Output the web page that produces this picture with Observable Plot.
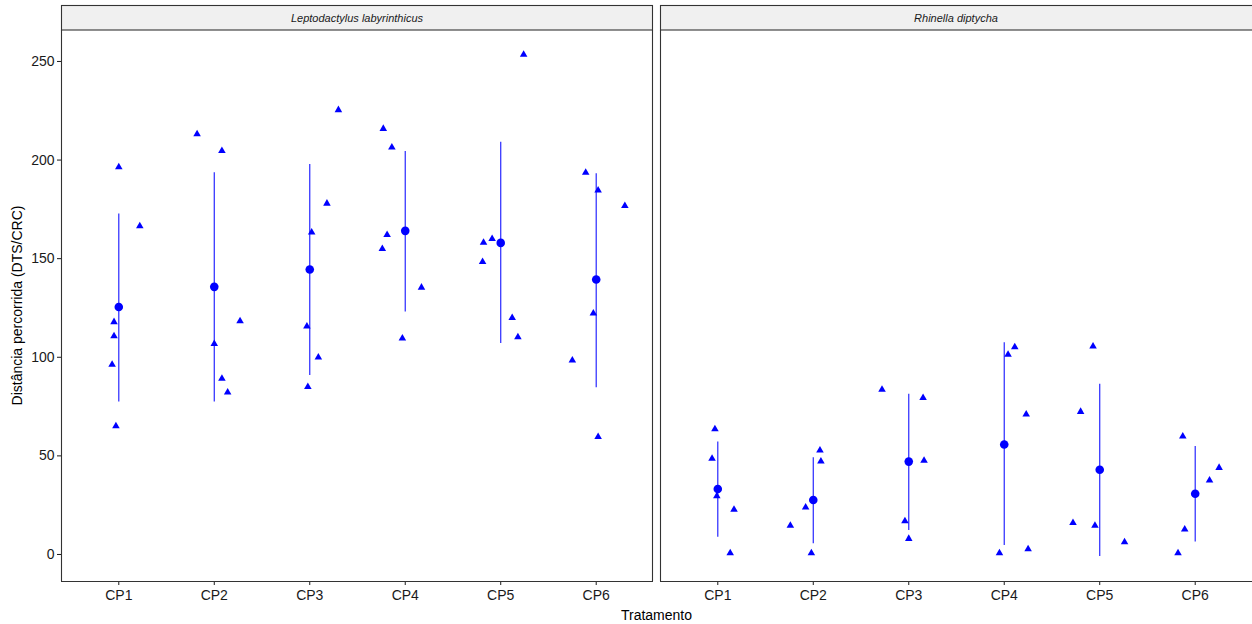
<!DOCTYPE html>
<html>
<head>
<meta charset="utf-8">
<script src="https://cdn.jsdelivr.net/npm/d3@7"></script>
<script src="https://cdn.jsdelivr.net/npm/@observablehq/plot@0.6"></script>
<style>
  html, body { margin: 0; padding: 0; background: #ffffff; }
  #chart svg { display: block; }
</style>
</head>
<body>
<div id="chart"></div>
<script>
// ---- Data ----
const species = ["Leptodactylus labyrinthicus", "Rhinella diptycha"];
const treatments = ["CP1", "CP2", "CP3", "CP4", "CP5", "CP6"];
const yTicks = [0, 50, 100, 150, 200, 250];

// Individual observations (triangles) per treatment
const lepValues = [
  [196.4, 166.5, 117.9, 110.7, 96.3, 65.1],
  [213.2, 204.7, 118.4, 106.8, 89.2, 82.2],
  [225.4, 178.0, 163.3, 115.7, 100.0, 85.0],
  [215.9, 206.5, 162.1, 155.0, 135.4, 109.6],
  [253.5, 160.1, 158.2, 148.4, 120.0, 110.2],
  [193.6, 184.6, 176.8, 122.3, 98.5, 59.7]
];
// Horizontal jitter of each observation (in treatment units)
const lepJitter = [
  [0.00, 0.22, -0.05, -0.05, -0.07, -0.03],
  [-0.18, 0.08, 0.27, 0.00, 0.08, 0.14],
  [0.30, 0.18, 0.02, -0.03, 0.09, -0.02],
  [-0.23, -0.14, -0.19, -0.24, 0.17, -0.03],
  [0.24, -0.09, -0.18, -0.19, 0.12, 0.18],
  [-0.11, 0.02, 0.30, -0.03, -0.25, 0.02]
];
const rhiValues = [
  [63.6, 48.6, 29.6, 22.8, 0.7],
  [52.8, 47.2, 23.9, 14.6, 0.7],
  [83.6, 79.4, 47.6, 16.9, 8.0],
  [105.2, 101.4, 71.1, 2.7, 0.7],
  [105.6, 72.4, 16.1, 14.7, 6.3],
  [59.9, 44.0, 37.6, 12.7, 0.7]
];
const rhiJitter = [
  [-0.03, -0.06, -0.01, 0.17, 0.13],
  [0.07, 0.08, -0.08, -0.24, -0.02],
  [-0.28, 0.15, 0.16, -0.04, 0.00],
  [0.11, 0.04, 0.23, 0.25, -0.05],
  [-0.07, -0.20, -0.28, -0.05, 0.26],
  [-0.13, 0.25, 0.15, -0.11, -0.18]
];

// Means and error bars (mean ± SD)
const lepMean = [125.5, 135.7, 144.5, 164.1, 158.0, 139.4];
const lepLow  = [77.3, 77.3, 90.7, 123.0, 107.0, 84.6];
const lepHigh = [172.6, 193.6, 197.8, 204.4, 209.0, 193.1];
const rhiMean = [33.2, 27.6, 47.1, 55.8, 43.0, 30.8];
const rhiLow  = [8.8, 5.4, 12.2, 4.6, -1.0, 6.3];
const rhiHigh = [57.0, 49.1, 81.2, 107.4, 86.3, 54.7];

// ---- Build tables ----
const points = [];
const summary = [];
[[species[0], lepValues, lepJitter, lepMean, lepLow, lepHigh],
 [species[1], rhiValues, rhiJitter, rhiMean, rhiLow, rhiHigh]].forEach(([sp, vals, jit, mean, lo, hi]) => {
  treatments.forEach((t, i) => {
    vals[i].forEach((v, j) => points.push({species: sp, x: i + 1 + jit[i][j], y: v}));
    summary.push({species: sp, x: i + 1, mean: mean[i], lo: lo[i], hi: hi[i]});
  });
});

// ---- Layout ----
const W = 1252, H = 624;
const mL = 61, mR = 0, mT = 30, mB = 43;
const gap = 7;
const fxPad = gap / ((W - mL - mR - gap) / 2 + gap);

const chart = Plot.plot({
  width: W,
  height: H,
  marginLeft: mL,
  marginRight: mR,
  marginTop: mT,
  marginBottom: mB,
  style: {fontFamily: "'Liberation Sans', Arial, sans-serif", fontSize: "14px", color: "#1a1a1a", background: "#ffffff", overflow: "visible"},
  fx: {domain: species, range: [mL, W - mR], paddingInner: fxPad, paddingOuter: 0, axis: null, label: null},
  x: {domain: [0.4, 6.6], ticks: [1, 2, 3, 4, 5, 6], tickFormat: i => treatments[i - 1], tickSize: 4, tickPadding: 5, label: null},
  y: {domain: [-13.7, 265.7], ticks: yTicks, tickSize: 4, tickPadding: 3, label: null},
  marks: [
    Plot.dot(points, {fx: "species", x: "x", y: "y", symbol: "triangle", fill: "#0000ff", r: 2.8}),
    Plot.ruleX(summary, {fx: "species", x: "x", y1: "lo", y2: "hi", stroke: "#0000ff", strokeWidth: 1.2, strokeOpacity: 0.85}),
    Plot.dot(summary, {fx: "species", x: "x", y: "mean", fill: "#0000ff", r: 4.3})
  ]
});

document.getElementById("chart").appendChild(chart);

// ---- ggplot-like decorations: strips, axis lines, titles ----
const svg = d3.select(chart.tagName.toLowerCase() === "svg" ? chart : chart.querySelector("svg"));
const fx = d3.scaleBand().domain(species).range([mL, W - mR]).paddingInner(fxPad).paddingOuter(0);
const bw = fx.bandwidth();
const panelTop = mT, panelBottom = H - mB;
const deco = svg.append("g");
species.forEach((s, k) => {
  const x0 = fx(s), x1 = x0 + bw;
  deco.append("rect")
    .attr("x", x0 + 0.5).attr("y", 5.5).attr("width", k === 0 ? bw - 1 : bw + 2).attr("height", panelTop - 5.5)
    .attr("fill", "#f0f0f0").attr("stroke", "#333333").attr("stroke-width", 1.1);
  deco.append("text")
    .attr("x", (x0 + x1) / 2).attr("y", (5 + panelTop) / 2)
    .attr("text-anchor", "middle").attr("dominant-baseline", "central")
    .attr("font-style", "italic").attr("font-size", "11px").attr("fill", "#1a1a1a")
    .text(s);
  deco.append("line").attr("x1", x0 + 0.5).attr("x2", x0 + 0.5).attr("y1", panelTop).attr("y2", panelBottom + 0.5)
    .attr("stroke", "#333333").attr("stroke-width", 1.1);
  deco.append("line").attr("x1", x0).attr("x2", x1).attr("y1", panelBottom + 0.5).attr("y2", panelBottom + 0.5)
    .attr("stroke", "#333333").attr("stroke-width", 1.1);
  if (k === 0) {
    deco.append("line").attr("x1", x1 - 0.5).attr("x2", x1 - 0.5).attr("y1", panelTop).attr("y2", panelBottom + 0.5)
      .attr("stroke", "#333333").attr("stroke-width", 1.1);
  }
});
deco.append("text")
  .attr("x", (mL + W - mR) / 2).attr("y", 620)
  .attr("text-anchor", "middle").attr("font-size", "14px").attr("fill", "#000000")
  .text("Tratamento");
deco.append("text")
  .attr("transform", `translate(22,${(panelTop + panelBottom) / 2}) rotate(-90)`)
  .attr("text-anchor", "middle").attr("font-size", "14px").attr("fill", "#000000")
  .text("Distância percorrida (DTS/CRC)");
</script>
</body>
</html>
